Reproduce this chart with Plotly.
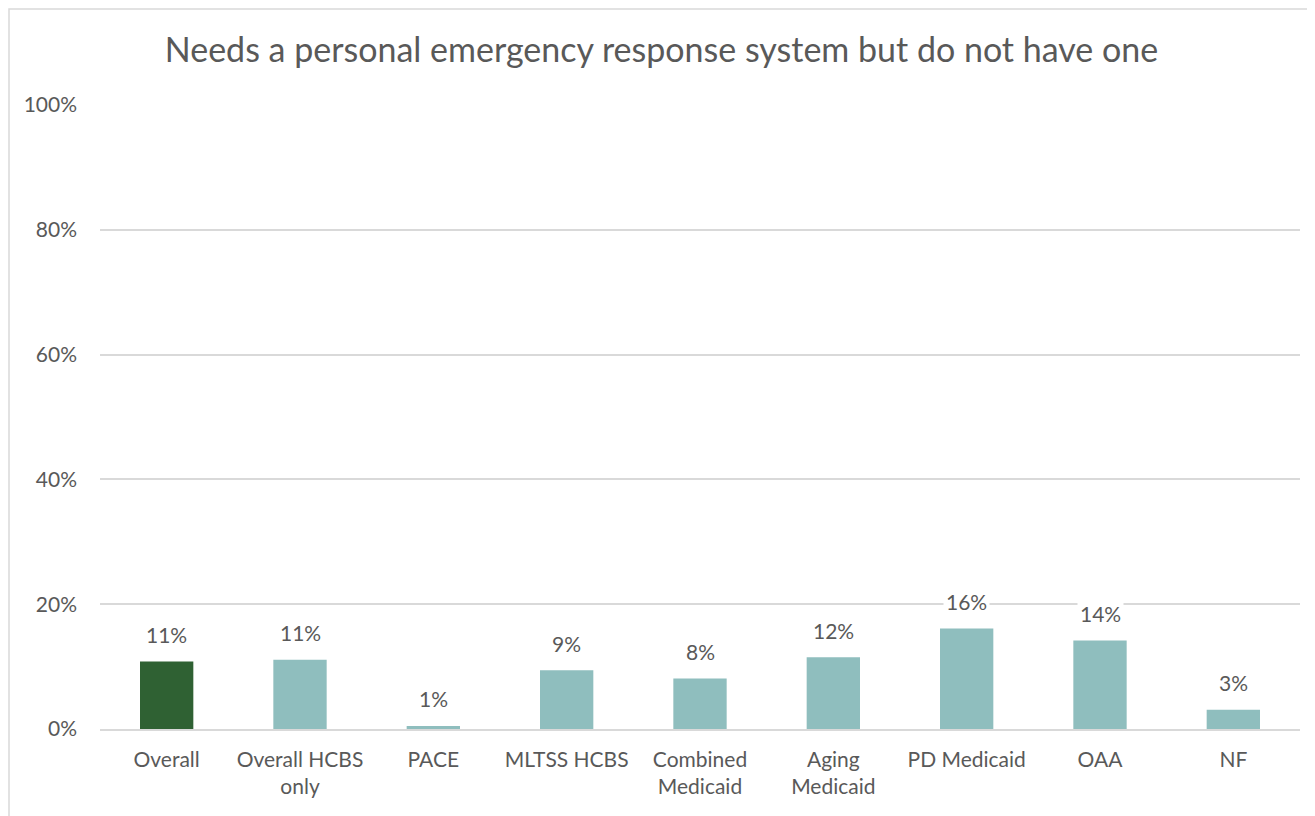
import plotly.graph_objects as go

categories = ["Overall", "Overall HCBS<br>only", "PACE", "MLTSS HCBS", "Combined<br>Medicaid",
              "Aging<br>Medicaid", "PD Medicaid", "OAA", "NF"]
values = [10.8, 11.1, 0.5, 9.4, 8.1, 11.5, 16.1, 14.2, 3.1]
labels = ["11%", "11%", "1%", "9%", "8%", "12%", "16%", "14%", "3%"]
colors = ["#2F6133"] + ["#8FBEBE"] * 8

tick_vals = [0, 20, 40, 60, 80, 100]
tick_text = ["0%", "20%", "40%", "60%", "80%", "100%"]

FONT = "Lato, Open Sans, sans-serif"
GRAY = "#595959"

W, H = 1307, 808
L, R, T, B = 92, 15, 97, 87
PW, PH = W - L - R, H - T - B

fig = go.Figure()
fig.add_trace(go.Bar(x=categories, y=values, marker=dict(color=colors, line=dict(width=0)),
                     hoverinfo="skip"))

for c, v, t in zip(categories, values, labels):
    fig.add_annotation(x=c, y=v, text=t, showarrow=False, yanchor="middle", yshift=27,
                       font=dict(family=FONT, size=21, color=GRAY), bgcolor="white",
                       borderpad=2)

fig.update_layout(
    width=W, height=H,
    margin=dict(l=L, r=R, t=T, b=B),
    paper_bgcolor="white", plot_bgcolor="white",
    bargap=0.6,
    showlegend=False,
    title=dict(text="Needs a personal emergency response system but do not have one",
               x=0.5, xanchor="center", y=1 - 42 / H, yanchor="middle",
               font=dict(family=FONT, size=34, color=GRAY)),
    font=dict(family=FONT, size=21, color=GRAY),
)
fig.update_yaxes(range=[0, 100], tickvals=tick_vals, ticktext=tick_text,
                 showgrid=True, gridcolor="#D9D9D9", gridwidth=1.5, zeroline=False,
                 showline=False, ticks="", ticklabelstandoff=22,
                 tickfont=dict(family=FONT, size=21, color=GRAY))
fig.update_xaxes(showline=True, linecolor="#D9D9D9", linewidth=1.5, ticks="",
                 tickfont=dict(family=FONT, size=21, color=GRAY), ticklabelstandoff=11)

fig.add_shape(type="rect", xref="paper", yref="paper",
              x0=(1 - L) / PW, x1=(W + 20 - L) / PW,
              y0=-(B + 20) / PH, y1=(PH + T - 1) / PH,
              line=dict(color="#D9D9D9", width=1.5), fillcolor="rgba(0,0,0,0)", layer="below")

fig.write_html("out.html")
